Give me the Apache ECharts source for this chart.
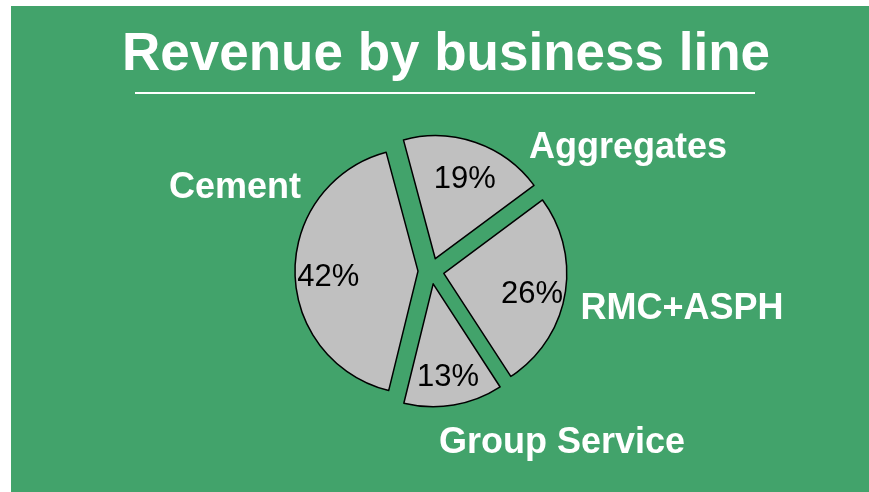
<!DOCTYPE html>
<html>
<head>
<meta charset="utf-8">
<title>Revenue by business line</title>
<script src="https://cdn.jsdelivr.net/npm/echarts@6/dist/echarts.min.js"></script>
<style>
    html, body { margin: 0; padding: 0; background: #ffffff; }
    #revenueChart { width: 869px; height: 492px; }
</style>
</head>
<body>
<div id="revenueChart"></div>
<script>
// Business lines, clockwise from the top-left edge of Aggregates
const categories = ['Aggregates', 'RMC+ASPH', 'Group Service', 'Cement'];
// Share of revenue, percent
const shares = [19, 26, 13, 42];

// Layout bits (pixels)
const pieCenter = [431, 271];
const pieRadius = 123;
const explode = 13;
// where the white category names sit, relative to the pie centre
const nameShift = [[197, -123], [251, 38], [131, 172], [-196, -83]];

const green = '#42a36b';
const sliceGrey = '#c0c0c0';
const fontFamily = '"Liberation Sans", Arial, sans-serif';

// Build pie data from the arrays above
const pieData = categories.map((name, i) => ({
    name: name,
    value: shares[i],
    selected: true
}));

const chart = echarts.init(document.getElementById('revenueChart'), null, { renderer: 'canvas' });

const sliceStyle = {
    color: sliceGrey,
    borderColor: '#000000',
    borderWidth: 1.5
};

// category names as plain text next to their slices
const nameTexts = categories.map((name, i) => ({
    type: 'text',
    z: 10,
    x: pieCenter[0] + nameShift[i][0],
    y: pieCenter[1] + nameShift[i][1],
    style: {
        text: name,
        fill: '#ffffff',
        fontSize: 36,
        fontWeight: 'bold',
        fontFamily: fontFamily,
        textAlign: 'center',
        textVerticalAlign: 'middle'
    }
}));

const options = {
    animation: false,
    backgroundColor: '#ffffff',
    title: {
        text: 'Revenue by business line',
        left: 117,
        top: 24,
        textStyle: {
            color: '#ffffff',
            fontSize: 53,
            fontWeight: 'bold',
            fontFamily: fontFamily
        }
    },
    graphic: [
        {
            // green panel behind everything
            type: 'rect',
            z: -10,
            shape: { x: 11, y: 6, width: 858, height: 486 },
            style: { fill: green }
        },
        {
            // rule under the title
            type: 'line',
            z: 5,
            shape: { x1: 135, y1: 93, x2: 755, y2: 93 },
            style: { stroke: '#ffffff', lineWidth: 2 }
        }
    ].concat(nameTexts),
    series: [
        {
            // the visible exploded pie
            name: 'Revenue',
            type: 'pie',
            center: pieCenter,
            radius: [0, pieRadius],
            startAngle: 105,
            clockwise: true,
            selectedMode: 'multiple',
            selectedOffset: explode,
            silent: true,
            itemStyle: sliceStyle,
            select: { itemStyle: sliceStyle },
            emphasis: { disabled: true },
            label: { show: false },
            labelLine: { show: false },
            data: pieData
        },
        {
            // invisible bigger pie, only to put the percent labels further out
            name: 'Share',
            type: 'pie',
            center: pieCenter,
            radius: [0, pieRadius * 1.41],
            startAngle: 105,
            clockwise: true,
            selectedMode: 'multiple',
            selectedOffset: explode,
            avoidLabelOverlap: false,
            silent: true,
            itemStyle: { color: 'rgba(0,0,0,0)', borderWidth: 0 },
            select: { itemStyle: { color: 'rgba(0,0,0,0)', borderWidth: 0 } },
            emphasis: { disabled: true },
            label: {
                show: true,
                position: 'inside',
                // empty first line nudges the number a little lower
                formatter: '{gap|}\n{c}%',
                color: '#000000',
                fontSize: 31,
                fontFamily: fontFamily,
                rich: {
                    gap: { fontSize: 2, lineHeight: 11 }
                }
            },
            labelLine: { show: false },
            data: pieData
        }
    ]
};

chart.setOption(options);
</script>
</body>
</html>
